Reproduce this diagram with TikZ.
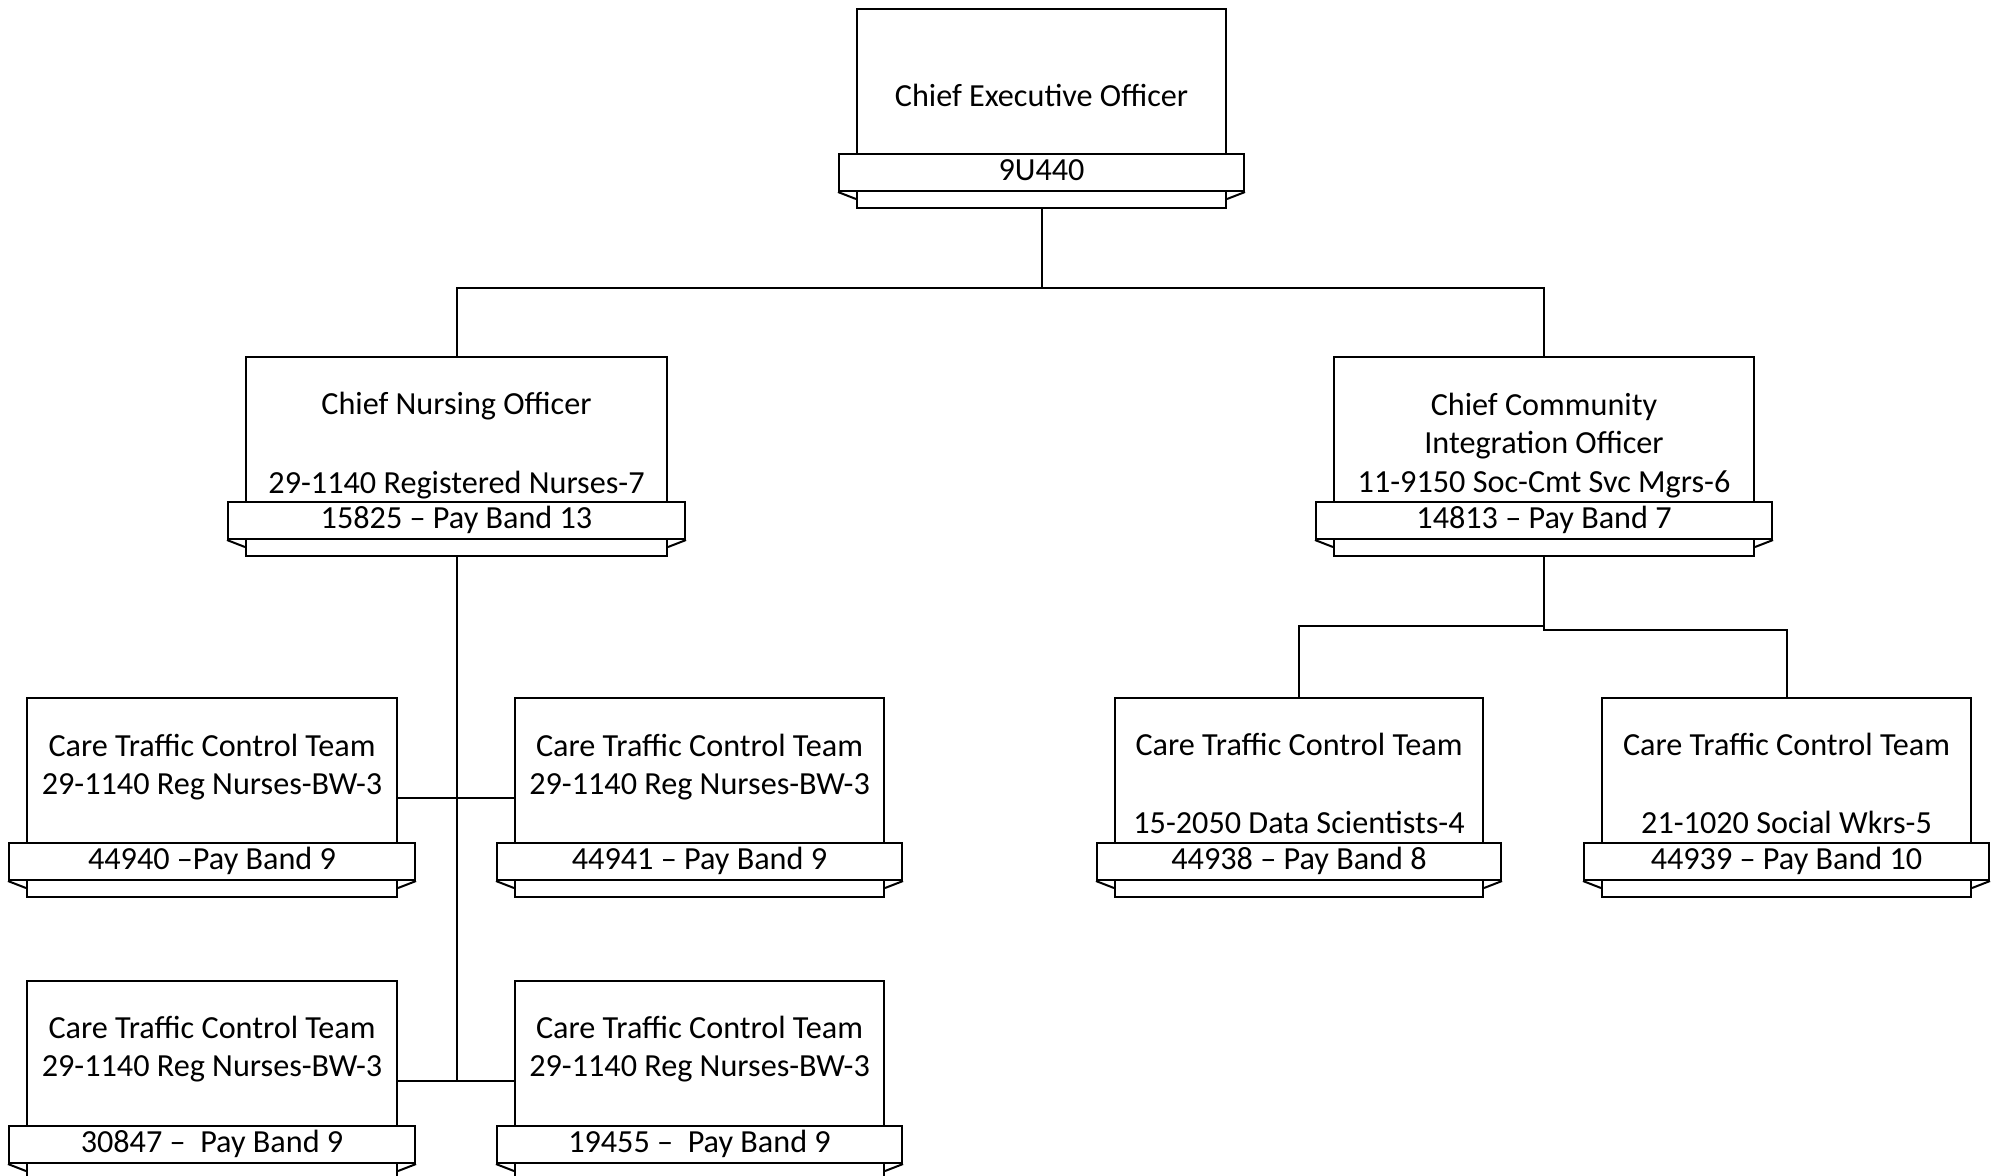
\documentclass[tikz,border=0pt]{standalone}
\usepackage{fontspec}
\setmainfont{Carlito}
\usetikzlibrary{calc}
\tikzset{
  bodybox/.style={draw, fill=white, anchor=north, inner sep=0pt, minimum height=99.5pt},
  bannerbox/.style={draw, fill=white, anchor=north, inner sep=0pt, minimum height=18.5pt},
  txt/.style={anchor=base, inner sep=0pt, font=\fontsize{16.1}{19}\selectfont},
  conn/.style={draw, line width=1pt}
}
% #1 name, #2 cx, #3 top, #4 width, #5 banner text
\newcommand\orgunit[5]{%
  \node[bodybox, minimum width=#4*0.5pt] (#1) at (#2,#3) {};
  \node[bannerbox, minimum width=(#4+36)*0.5pt] (#1b) at (#2,#3+145) {};
  \node[txt] (#1t) at (#2,#3+172) {#5};
  \draw (#1b.south west) -- ($(#1.south west)+(0,-10)$);
  \draw (#1b.south east) -- ($(#1.south east)+(0,-10)$);
}
\newcommand\orgline[4]{\node[txt] (#1) at (#2,#3) {#4};}
\begin{document}
\begin{tikzpicture}[x=0.5pt,y=-0.5pt,line width=1pt]
\path[use as bounding box] (0,0) rectangle (2000,1175);
\clip (0,0) rectangle (2000,1175);
\fill[white] (0,0) rectangle (2000,1175);

\orgunit{ceo}{1041.5}{8}{369}{9U440}
\orgline{ceoA}{1041.5}{106}{Chief Executive Officer}

\orgunit{cno}{456.5}{356}{421}{15825 – Pay Band 13}
\orgline{cnoA}{456.5}{414}{Chief Nursing Officer}
\orgline{cnoC}{456.5}{493}{29-1140 Registered Nurses-7}

\orgunit{ccio}{1544}{356}{420}{14813 – Pay Band 7}
\orgline{ccioA}{1544}{415}{Chief Community}
\orgline{ccioB}{1544}{453}{Integration Officer}
\orgline{ccioC}{1544}{492}{11-9150 Soc-Cmt Svc Mgrs-6}

\orgunit{ta}{212}{697}{370}{44940 –Pay Band 9}
\orgline{taA}{212}{756}{Care Traffic Control Team}
\orgline{taB}{212}{794}{29-1140 Reg Nurses-BW-3}

\orgunit{tb}{699.5}{697}{369}{44941 – Pay Band 9}
\orgline{tbA}{699.5}{756}{Care Traffic Control Team}
\orgline{tbB}{699.5}{794}{29-1140 Reg Nurses-BW-3}

\orgunit{tc}{212}{980}{370}{30847 –\ \ Pay Band 9}
\orgline{tcA}{212}{1038}{Care Traffic Control Team}
\orgline{tcB}{212}{1076}{29-1140 Reg Nurses-BW-3}

\orgunit{td}{699.5}{980}{369}{19455 –\ \ Pay Band 9}
\orgline{tdA}{699.5}{1038}{Care Traffic Control Team}
\orgline{tdB}{699.5}{1076}{29-1140 Reg Nurses-BW-3}

\orgunit{te}{1299}{697}{368}{44938 – Pay Band 8}
\orgline{teA}{1299}{755}{Care Traffic Control Team}
\orgline{teC}{1299}{833}{15-2050 Data Scientists-4}

\orgunit{tf}{1786.5}{697}{369}{44939 – Pay Band 10}
\orgline{tfA}{1786.5}{755}{Care Traffic Control Team}
\orgline{tfC}{1786.5}{833}{21-1020 Social Wkrs-5}

% connectors
\coordinate (j0) at (1041.5,288);
\draw[conn] (ceo.south) -- (j0) -| (cno.north);
\draw[conn] (j0) -| (ccio.north);

\draw[conn] (cno.south) -- (cno.south |- tc.east);
\draw[conn] (ta.east) -- (tb.west);
\draw[conn] (tc.east) -- (td.west);

\coordinate (j1) at (1544,626);
\coordinate (j2) at (1544,630);
\draw[conn] (ccio.south) -- (j2) -| (tf.north);
\draw[conn] (j1) -| (te.north);
\end{tikzpicture}
\end{document}
